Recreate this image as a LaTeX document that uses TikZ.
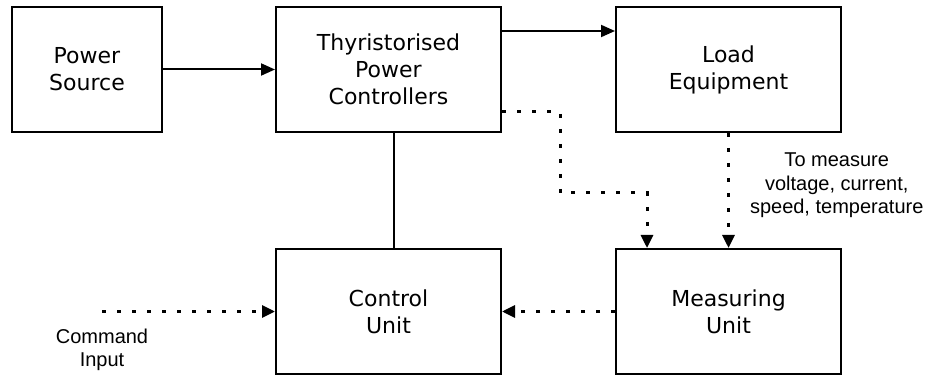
\documentclass[tikz,border=0pt]{standalone}
\usepackage{fontspec}
\setsansfont{DejaVu Sans}
\newfontfamily\notefont{Liberation Sans}
\usetikzlibrary{arrows.meta, positioning}

\begin{document}
\begin{tikzpicture}[x=1pt, y=1pt, font=\sffamily\fontsize{22}{27}\selectfont,
    block/.style={draw, line width=2pt, minimum width=225pt, minimum height=125pt, align=center, inner sep=0pt},
    flow/.style={line width=2pt, -{Triangle[length=14pt, width=12pt]}},
    sig/.style={line width=3pt, dash pattern=on 4pt off 11pt, -{Triangle[length=13pt, width=12pt]}},
    note/.style={font=\notefont\fontsize{20}{23.5}\selectfont, align=center, inner sep=0pt}]

\useasboundingbox (0,0) rectangle (928,375);

\node [block, minimum width=150pt] (src) at (87,305.5) {Power\\Source};
\node [block, right=112pt of src] (tpc) {Thyristorised\\Power\\Controllers};
\node [block, right=113pt of tpc] (load) {Load\\Equipment};
\node [block, below=115pt of tpc] (ctrl) {Control\\Unit};
\node [block, below=115pt of load] (meas) {Measuring\\Unit};

\coordinate [left=173pt of ctrl.west] (cmd);
\node [note, below=17pt of cmd] (cmdin) {Command\\Input};

\draw [flow] (src) -- (tpc);
\draw [flow] ([yshift=38.5pt]tpc.east) -- ([yshift=38.5pt]load.west);
\draw [line width=2pt] ([xshift=5pt]tpc.south) -- ([xshift=5pt]ctrl.north);

\draw [sig] ([yshift=-42.5pt]tpc.east) -- ++(58pt,0) -- ++(0,-81pt) -| ([xshift=32pt]meas.north west);
\draw [sig] (load) -- node [note, right=20pt, yshift=5pt] (memo) {To measure\\voltage, current,\\speed, temperature} (meas);
\draw [sig] (meas) -- (ctrl);
\draw [sig] (cmd) -- (ctrl.west);

\end{tikzpicture}
\end{document}
